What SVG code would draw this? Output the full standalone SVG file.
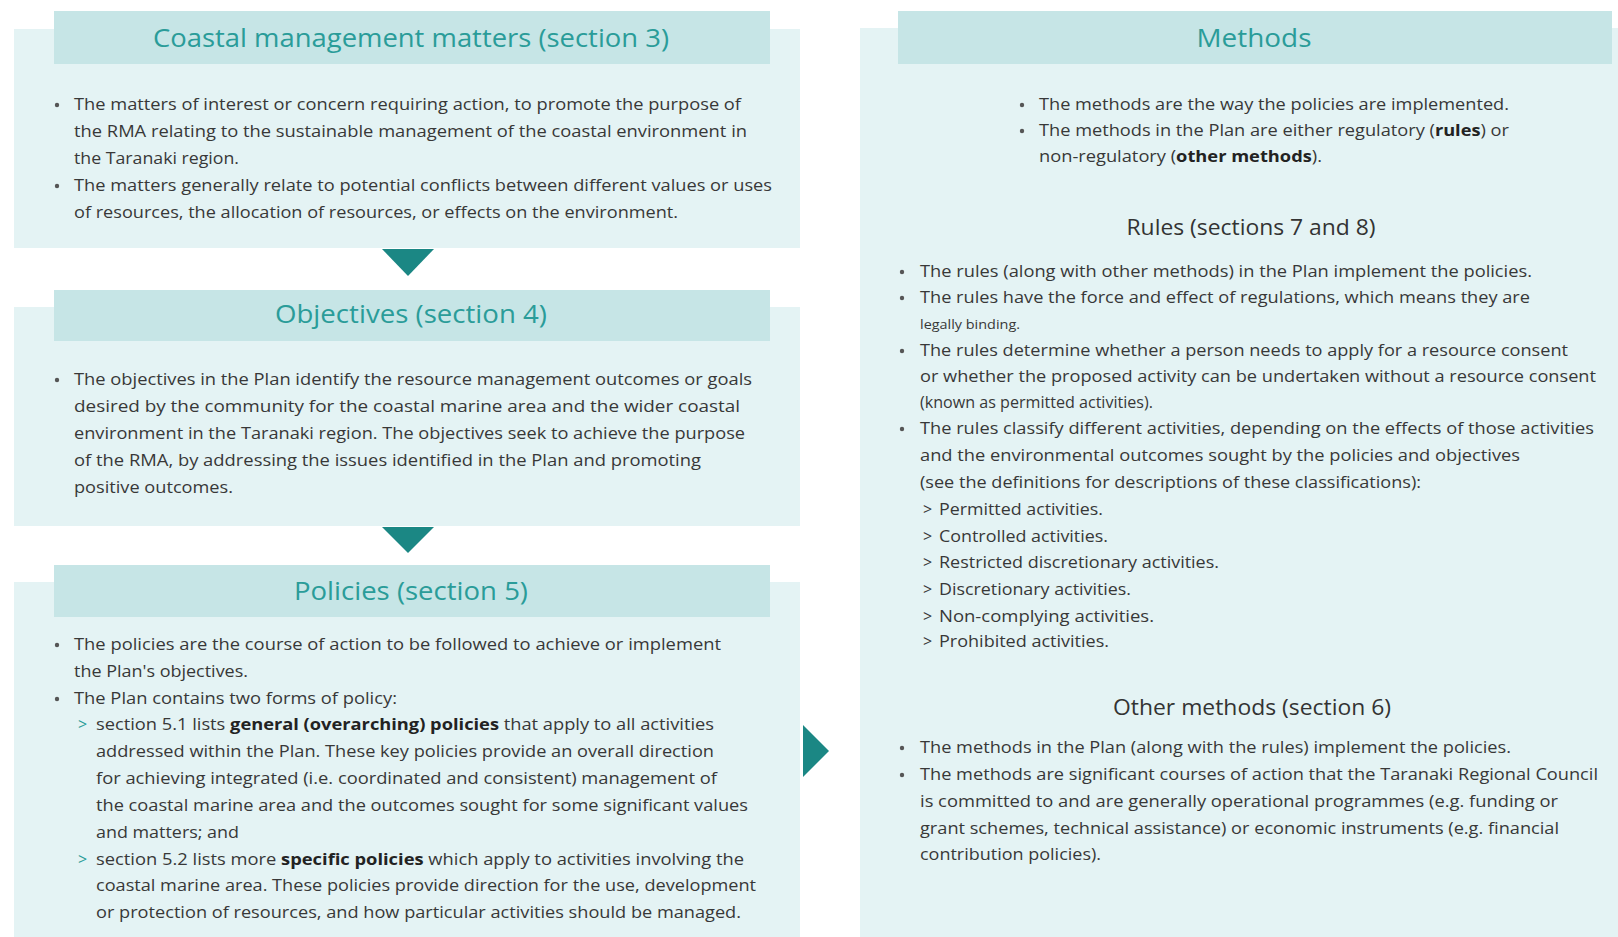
<svg xmlns="http://www.w3.org/2000/svg" width="1618" height="937" viewBox="0 0 1618 937">
<style>
.box{fill:#e4f3f4}
.band{fill:#c6e5e6}
.ttl{font-family:"Open Sans","Noto Sans",sans-serif;font-size:26px;fill:#2a9c99;text-anchor:middle}
.sub{font-family:"Open Sans","Noto Sans",sans-serif;font-size:21px;fill:#333;text-anchor:middle}
.t{font-family:"Open Sans","Noto Sans",sans-serif;font-size:16px;fill:#383838}
.b{font-weight:bold;fill:#222}
.dot{fill:#555}
.arr{fill:#1b8784}
</style>
<rect width="1618" height="937" fill="#ffffff"/>

<g id="node-matters">
<rect class="box" x="14" y="29" width="786" height="219"/>
<rect class="band" x="54" y="11" width="716" height="53"/>
<text class="ttl" x="411" y="47" textLength="516" lengthAdjust="spacingAndGlyphs">Coastal management matters (section 3)</text>
<circle class="dot" cx="57" cy="105" r="2.2"/>
<text class="t" x="74" y="110" textLength="667" lengthAdjust="spacingAndGlyphs">The matters of interest or concern requiring action, to promote the purpose of</text>
<text class="t" x="74" y="137" textLength="673" lengthAdjust="spacingAndGlyphs">the RMA relating to the sustainable management of the coastal environment in</text>
<text class="t" x="74" y="164" textLength="165" lengthAdjust="spacingAndGlyphs">the Taranaki region.</text>
<circle class="dot" cx="57" cy="186" r="2.2"/>
<text class="t" x="74" y="191" textLength="698" lengthAdjust="spacingAndGlyphs">The matters generally relate to potential conflicts between different values or uses</text>
<text class="t" x="74" y="218" textLength="604" lengthAdjust="spacingAndGlyphs">of resources, the allocation of resources, or effects on the environment.</text>
</g>

<g id="node-objectives">
<rect class="box" x="14" y="307" width="786" height="219"/>
<rect class="band" x="54" y="290" width="716" height="51"/>
<text class="ttl" x="411" y="323" textLength="272" lengthAdjust="spacingAndGlyphs">Objectives (section 4)</text>
<circle class="dot" cx="57" cy="380" r="2.2"/>
<text class="t" x="74" y="385" textLength="678" lengthAdjust="spacingAndGlyphs">The objectives in the Plan identify the resource management outcomes or goals</text>
<text class="t" x="74" y="412" textLength="666" lengthAdjust="spacingAndGlyphs">desired by the community for the coastal marine area and the wider coastal</text>
<text class="t" x="74" y="439" textLength="671" lengthAdjust="spacingAndGlyphs">environment in the Taranaki region. The objectives seek to achieve the purpose</text>
<text class="t" x="74" y="466" textLength="627" lengthAdjust="spacingAndGlyphs">of the RMA, by addressing the issues identified in the Plan and promoting</text>
<text class="t" x="74" y="493" textLength="159" lengthAdjust="spacingAndGlyphs">positive outcomes.</text>
</g>

<g id="node-policies">
<rect class="box" x="14" y="582" width="786" height="355"/>
<rect class="band" x="54" y="565" width="716" height="52"/>
<text class="ttl" x="411" y="600" textLength="234" lengthAdjust="spacingAndGlyphs">Policies (section 5)</text>
<circle class="dot" cx="57" cy="645" r="2.2"/>
<text class="t" x="74" y="650" textLength="647" lengthAdjust="spacingAndGlyphs">The policies are the course of action to be followed to achieve or implement</text>
<text class="t" x="74" y="677" textLength="174" lengthAdjust="spacingAndGlyphs">the Plan's objectives.</text>
<circle class="dot" cx="57" cy="699" r="2.2"/>
<text class="t" x="74" y="704" textLength="323" lengthAdjust="spacingAndGlyphs">The Plan contains two forms of policy:</text>
<text class="t" x="78" y="730" fill="#2a9c99" style="fill:#2a9c99">&gt;</text>
<text class="t" x="96" y="730" textLength="618" lengthAdjust="spacingAndGlyphs">section 5.1 lists <tspan class="b">general (overarching) policies</tspan> that apply to all activities</text>
<text class="t" x="96" y="757" textLength="618" lengthAdjust="spacingAndGlyphs">addressed within the Plan. These key policies provide an overall direction</text>
<text class="t" x="96" y="784" textLength="621" lengthAdjust="spacingAndGlyphs">for achieving integrated (i.e. coordinated and consistent) management of</text>
<text class="t" x="96" y="811" textLength="652" lengthAdjust="spacingAndGlyphs">the coastal marine area and the outcomes sought for some significant values</text>
<text class="t" x="96" y="838" textLength="143" lengthAdjust="spacingAndGlyphs">and matters; and</text>
<text class="t" x="78" y="865" style="fill:#2a9c99">&gt;</text>
<text class="t" x="96" y="865" textLength="648" lengthAdjust="spacingAndGlyphs">section 5.2 lists more <tspan class="b">specific policies</tspan> which apply to activities involving the</text>
<text class="t" x="96" y="891" textLength="660" lengthAdjust="spacingAndGlyphs">coastal marine area. These policies provide direction for the use, development</text>
<text class="t" x="96" y="918" textLength="645" lengthAdjust="spacingAndGlyphs">or protection of resources, and how particular activities should be managed.</text>
</g>

<g id="node-methods">
<rect class="box" x="860" y="28" width="758" height="909"/>
<rect class="band" x="898" y="11" width="714" height="53"/>
<text class="ttl" x="1254" y="47" textLength="115" lengthAdjust="spacingAndGlyphs">Methods</text>
<circle class="dot" cx="1022" cy="105" r="2.2"/>
<text class="t" x="1039" y="110" textLength="470" lengthAdjust="spacingAndGlyphs">The methods are the way the policies are implemented.</text>
<circle class="dot" cx="1022" cy="131" r="2.2"/>
<text class="t" x="1039" y="136" textLength="470" lengthAdjust="spacingAndGlyphs">The methods in the Plan are either regulatory (<tspan class="b">rules</tspan>) or</text>
<text class="t" x="1039" y="162" textLength="283" lengthAdjust="spacingAndGlyphs">non-regulatory (<tspan class="b">other methods</tspan>).</text>

<text class="sub" x="1251" y="235" textLength="249" lengthAdjust="spacingAndGlyphs">Rules (sections 7 and 8)</text>
<circle class="dot" cx="902" cy="272" r="2.2"/>
<text class="t" x="920" y="277" textLength="612" lengthAdjust="spacingAndGlyphs">The rules (along with other methods) in the Plan implement the policies.</text>
<circle class="dot" cx="902" cy="298" r="2.2"/>
<text class="t" x="920" y="303" textLength="610" lengthAdjust="spacingAndGlyphs">The rules have the force and effect of regulations, which means they are</text>
<text class="t" x="920" y="329" style="font-size:13px" textLength="100" lengthAdjust="spacingAndGlyphs">legally binding.</text>
<circle class="dot" cx="902" cy="351" r="2.2"/>
<text class="t" x="920" y="356" textLength="648" lengthAdjust="spacingAndGlyphs">The rules determine whether a person needs to apply for a resource consent</text>
<text class="t" x="920" y="382" textLength="676" lengthAdjust="spacingAndGlyphs">or whether the proposed activity can be undertaken without a resource consent</text>
<text class="t" x="920" y="408" textLength="233" lengthAdjust="spacingAndGlyphs">(known as permitted activities).</text>
<circle class="dot" cx="902" cy="429" r="2.2"/>
<text class="t" x="920" y="434" textLength="674" lengthAdjust="spacingAndGlyphs">The rules classify different activities, depending on the effects of those activities</text>
<text class="t" x="920" y="461" textLength="600" lengthAdjust="spacingAndGlyphs">and the environmental outcomes sought by the policies and objectives</text>
<text class="t" x="920" y="488" textLength="501" lengthAdjust="spacingAndGlyphs">(see the definitions for descriptions of these classifications):</text>
<text class="t" x="923" y="515">&gt;</text>
<text class="t" x="939" y="515" textLength="164" lengthAdjust="spacingAndGlyphs">Permitted activities.</text>
<text class="t" x="923" y="542">&gt;</text>
<text class="t" x="939" y="542" textLength="169" lengthAdjust="spacingAndGlyphs">Controlled activities.</text>
<text class="t" x="923" y="568">&gt;</text>
<text class="t" x="939" y="568" textLength="280" lengthAdjust="spacingAndGlyphs">Restricted discretionary activities.</text>
<text class="t" x="923" y="595">&gt;</text>
<text class="t" x="939" y="595" textLength="192" lengthAdjust="spacingAndGlyphs">Discretionary activities.</text>
<text class="t" x="923" y="622">&gt;</text>
<text class="t" x="939" y="622" textLength="215" lengthAdjust="spacingAndGlyphs">Non-complying activities.</text>
<text class="t" x="923" y="647">&gt;</text>
<text class="t" x="939" y="647" textLength="170" lengthAdjust="spacingAndGlyphs">Prohibited activities.</text>

<text class="sub" x="1252" y="715" textLength="278" lengthAdjust="spacingAndGlyphs">Other methods (section 6)</text>
<circle class="dot" cx="902" cy="748" r="2.2"/>
<text class="t" x="920" y="753" textLength="591" lengthAdjust="spacingAndGlyphs">The methods in the Plan (along with the rules) implement the policies.</text>
<circle class="dot" cx="902" cy="775" r="2.2"/>
<text class="t" x="920" y="780" textLength="678" lengthAdjust="spacingAndGlyphs">The methods are significant courses of action that the Taranaki Regional Council</text>
<text class="t" x="920" y="807" textLength="638" lengthAdjust="spacingAndGlyphs">is committed to and are generally operational programmes (e.g. funding or</text>
<text class="t" x="920" y="834" textLength="639" lengthAdjust="spacingAndGlyphs">grant schemes, technical assistance) or economic instruments (e.g. financial</text>
<text class="t" x="920" y="860" textLength="181" lengthAdjust="spacingAndGlyphs">contribution policies).</text>
</g>

<g id="connectors">
<polygon class="arr" points="382,249 434,249 408,276"/>
<polygon class="arr" points="382,527 434,527 408,553"/>
<polygon class="arr" points="803,725 829,751 803,777"/>
</g>
</svg>
